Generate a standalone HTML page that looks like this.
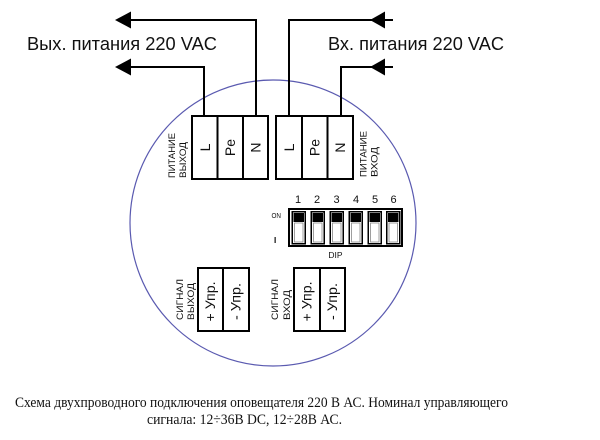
<!DOCTYPE html>
<html><head><meta charset="utf-8"><style>
html,body{margin:0;padding:0;background:#fff;}
svg{display:block;}
.s{font-family:"Liberation Sans","DejaVu Sans",sans-serif;fill:#111;}
.t{font-family:"Liberation Serif","DejaVu Serif",serif;fill:#111;}
</style></head><body>
<svg width="600" height="440" viewBox="0 0 600 440" xmlns="http://www.w3.org/2000/svg">
<rect width="600" height="440" fill="#fff"/>
<circle cx="273" cy="223" r="143" fill="none" stroke="#5a5ab0" stroke-width="1.2"/>

<!-- wires -->
<g fill="none" stroke="#000" stroke-width="2">
<path d="M128 20 H256 V116"/>
<path d="M128 67 H204 V116"/>
<path d="M393 20 H289 V116"/>
<path d="M393 67 H341 V116"/>
</g>
<g fill="#000">
<polygon points="115,20 131,11.5 131,28.5"/>
<polygon points="115,67 131,58.5 131,75.5"/>
<polygon points="370,20 385,11.5 385,28.5"/>
<polygon points="370,67 385,58.5 385,75.5"/>
</g>

<text class="s" x="27" y="50" font-size="18" textLength="190" lengthAdjust="spacingAndGlyphs">Вых. питания 220 VAC</text>
<text class="s" x="328" y="50" font-size="18" textLength="176" lengthAdjust="spacingAndGlyphs">Вх. питания 220 VAC</text>

<!-- power terminal blocks -->
<g fill="#fff" stroke="#000" stroke-width="2">
<rect x="192" y="116" width="76" height="63"/>
<line x1="217.5" y1="116" x2="217.5" y2="179"/>
<line x1="243" y1="116" x2="243" y2="179"/>
<rect x="276" y="116" width="77" height="63"/>
<line x1="302" y1="116" x2="302" y2="179"/>
<line x1="327.5" y1="116" x2="327.5" y2="179"/>
</g>
<g class="s" font-size="14" text-anchor="middle">
<text transform="translate(205,147.5) rotate(-90)" y="5">L</text>
<text transform="translate(230,147.5) rotate(-90)" y="5">Pe</text>
<text transform="translate(255.5,147.5) rotate(-90)" y="5">N</text>
<text transform="translate(289,147.5) rotate(-90)" y="5">L</text>
<text transform="translate(314.7,147.5) rotate(-90)" y="5">Pe</text>
<text transform="translate(340,147.5) rotate(-90)" y="5">N</text>
</g>
<g class="s" font-size="9.5">
<text transform="translate(175,178) rotate(-90)" textLength="45" lengthAdjust="spacingAndGlyphs">ПИТАНИЕ</text>
<text transform="translate(186,178) rotate(-90)" textLength="36" lengthAdjust="spacingAndGlyphs">ВЫХОД</text>
<text transform="translate(366.5,177) rotate(-90)" textLength="46" lengthAdjust="spacingAndGlyphs">ПИТАНИЕ</text>
<text transform="translate(377.5,177) rotate(-90)" textLength="30" lengthAdjust="spacingAndGlyphs">ВХОД</text>
</g>

<!-- DIP switch -->
<g class="s" font-size="11" text-anchor="middle">
<text x="298" y="203">1</text>
<text x="317" y="203">2</text>
<text x="336.5" y="203">3</text>
<text x="356" y="203">4</text>
<text x="375" y="203">5</text>
<text x="393.5" y="203">6</text>
</g>
<text class="s" x="271.5" y="218" font-size="7.5" textLength="9.5" lengthAdjust="spacingAndGlyphs">ON</text>
<rect x="274.5" y="237" width="1.3" height="6" fill="#222"/>
<text class="s" x="335.5" y="258" font-size="8.5" text-anchor="middle">DIP</text>
<rect x="289" y="209" width="113" height="37" fill="#fff" stroke="#000" stroke-width="2"/>
<g>
<g transform="translate(291.5,211)">
<rect x="0.75" y="0.75" width="13" height="32" fill="#fff" stroke="#000" stroke-width="1.5"/>
<rect x="2" y="2" width="10.5" height="9" fill="#000"/>
<rect x="3" y="12" width="8.5" height="19" fill="#fff" stroke="#888" stroke-width="0.8"/>
</g>
<g transform="translate(310.5,211)">
<rect x="0.75" y="0.75" width="13" height="32" fill="#fff" stroke="#000" stroke-width="1.5"/>
<rect x="2" y="2" width="10.5" height="9" fill="#000"/>
<rect x="3" y="12" width="8.5" height="19" fill="#fff" stroke="#888" stroke-width="0.8"/>
</g>
<g transform="translate(329.5,211)">
<rect x="0.75" y="0.75" width="13" height="32" fill="#fff" stroke="#000" stroke-width="1.5"/>
<rect x="2" y="2" width="10.5" height="9" fill="#000"/>
<rect x="3" y="12" width="8.5" height="19" fill="#fff" stroke="#888" stroke-width="0.8"/>
</g>
<g transform="translate(348.5,211)">
<rect x="0.75" y="0.75" width="13" height="32" fill="#fff" stroke="#000" stroke-width="1.5"/>
<rect x="2" y="2" width="10.5" height="9" fill="#000"/>
<rect x="3" y="12" width="8.5" height="19" fill="#fff" stroke="#888" stroke-width="0.8"/>
</g>
<g transform="translate(367.5,211)">
<rect x="0.75" y="0.75" width="13" height="32" fill="#fff" stroke="#000" stroke-width="1.5"/>
<rect x="2" y="2" width="10.5" height="9" fill="#000"/>
<rect x="3" y="12" width="8.5" height="19" fill="#fff" stroke="#888" stroke-width="0.8"/>
</g>
<g transform="translate(386,211)">
<rect x="0.75" y="0.75" width="13" height="32" fill="#fff" stroke="#000" stroke-width="1.5"/>
<rect x="2" y="2" width="10.5" height="9" fill="#000"/>
<rect x="3" y="12" width="8.5" height="19" fill="#fff" stroke="#888" stroke-width="0.8"/>
</g>
</g>

<!-- signal blocks -->
<g fill="#fff" stroke="#000" stroke-width="2">
<rect x="198" y="268" width="51" height="63"/>
<line x1="223" y1="268" x2="223" y2="331"/>
<rect x="294" y="268" width="51" height="63"/>
<line x1="320" y1="268" x2="320" y2="331"/>
</g>
<g class="s" font-size="14" text-anchor="middle">
<text transform="translate(210.5,301.5) rotate(-90)" y="4.5" textLength="40" lengthAdjust="spacingAndGlyphs">+ Упр.</text>
<text transform="translate(236,301.5) rotate(-90)" y="4.5" textLength="37" lengthAdjust="spacingAndGlyphs">- Упр.</text>
<text transform="translate(307,301.5) rotate(-90)" y="4.5" textLength="40" lengthAdjust="spacingAndGlyphs">+ Упр.</text>
<text transform="translate(332.5,301.5) rotate(-90)" y="4.5" textLength="37" lengthAdjust="spacingAndGlyphs">- Упр.</text>
</g>
<g class="s" font-size="9.5">
<text transform="translate(183,320) rotate(-90)" textLength="41" lengthAdjust="spacingAndGlyphs">СИГНАЛ</text>
<text transform="translate(194,320) rotate(-90)" textLength="37" lengthAdjust="spacingAndGlyphs">ВЫХОД</text>
<text transform="translate(278,320) rotate(-90)" textLength="41" lengthAdjust="spacingAndGlyphs">СИГНАЛ</text>
<text transform="translate(290,320) rotate(-90)" textLength="30" lengthAdjust="spacingAndGlyphs">ВХОД</text>
</g>

<!-- caption -->
<text class="t" x="15" y="407" font-size="15" textLength="493" lengthAdjust="spacingAndGlyphs">Схема двухпроводного подключения оповещателя 220 В АС. Номинал управляющего</text>
<text class="t" x="147" y="424" font-size="15" textLength="195" lengthAdjust="spacingAndGlyphs">сигнала: 12÷36В DC, 12÷28В АС.</text>
</svg>
</body></html>
